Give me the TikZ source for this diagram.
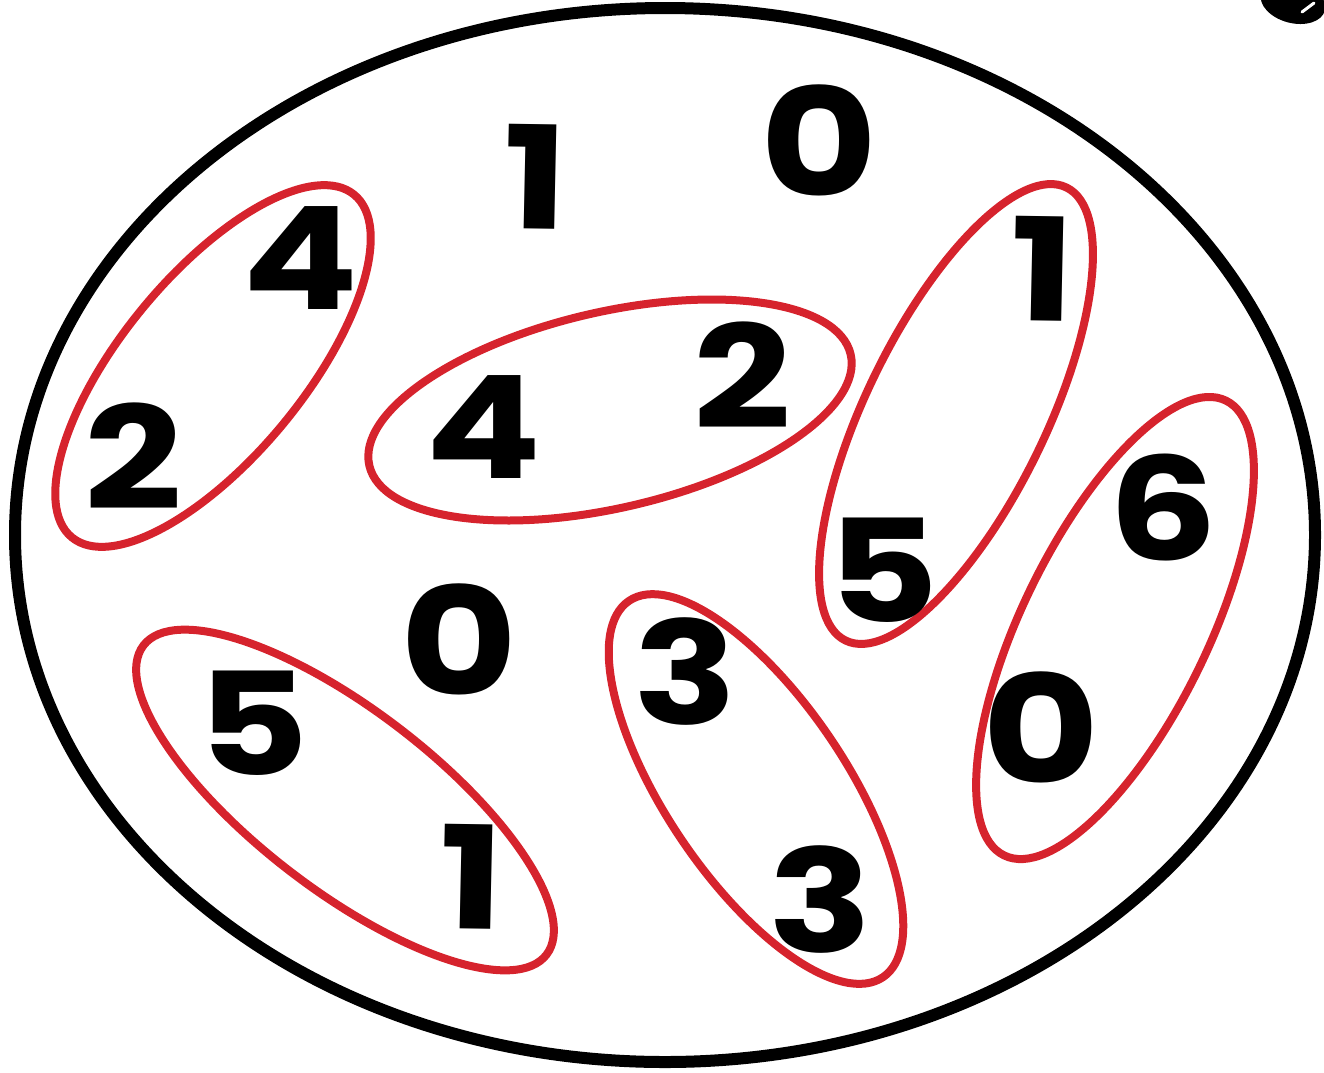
\documentclass[tikz,border=0pt]{standalone}
\usepackage{fontspec}
\setmainfont{Poppins}
\definecolor{grpred}{HTML}{D6232D}
\begin{document}
\begin{tikzpicture}[x=1pt,y=-1pt,
  dig/.style={inner sep=0pt, xscale=1.2, font=\fontsize{143}{143}\selectfont\bfseries},
  zero/.style={inner sep=0pt, xscale=1.2, font=\fontsize{150}{150}\selectfont\bfseries},
  grp/.style={draw=grpred, line width=8pt},
  outer/.style={draw=black, line width=12pt}]
\useasboundingbox (0,0) rectangle (1324,1072);
\begin{scope}
\clip (0,0) rectangle (1324,1072);
\fill[black, rotate around={-15:(1293,2)}] (1293,2) ellipse (33 and 21);
\draw[white, line width=3pt, line cap=round] (1302,12) -- (1314,3);
\end{scope}
% big set
\draw[outer] (665,535) ellipse (650 and 527);
% groups
\draw[grp, rotate around={50.5:(213,366)}] (213,366) ellipse (222 and 91);
\draw[grp, rotate around={13:(610,410)}] (610,410) ellipse (247 and 98);
\draw[grp, rotate around={64:(956,414)}] (956,414) ellipse (252 and 90);
\draw[grp, rotate around={64:(1115,628)}] (1115,628) ellipse (253 and 93);
\draw[grp, rotate around={-37.5:(345,800)}] (345,800) ellipse (254 and 90);
\draw[grp, rotate around={-56:(756,789)}] (756,789) ellipse (227 and 90);
% digits
\node[dig, rotate=-1] (a1) at (536,177) {1};
\node[zero] (a0) at (819,141) {0};
\node[dig] (b4) at (301,258) {4};
\node[dig] (b2) at (133,456) {2};
\node[dig] (c4) at (484,427) {4};
\node[dig] (c2) at (742,375) {2};
\node[dig, rotate=-1] (d1) at (1043,269) {1};
\node[dig] (d5) at (883,570) {5};
\node[dig] (e6) at (1163,508) {6};
\node[zero] (e0) at (1041,728) {0};
\node[zero] (m0) at (459,640) {0};
\node[dig] (f5) at (253,723) {5};
\node[dig, rotate=-1] (f1) at (472,877) {1};
\node[dig] (g3) at (685,672) {3};
\node[dig] (g3b) at (820,899) {3};
\end{tikzpicture}
\end{document}
